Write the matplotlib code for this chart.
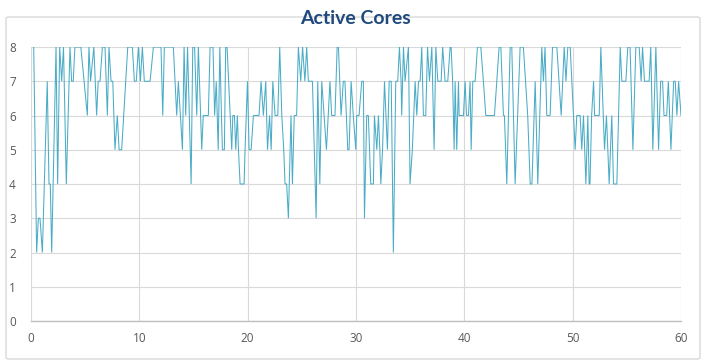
import matplotlib
matplotlib.use("Agg")
import matplotlib.pyplot as plt
from matplotlib.patches import FancyBboxPatch

# Vertices of the series (time in s, active cores)
time_s = [
    0.25, 0.52, 0.68, 0.83, 1.05, 1.5, 1.66, 1.78, 1.91, 2.31, 2.46, 2.65, 2.83, 3.0, 3.26, 3.6,
    3.75, 3.9, 4.05, 4.6, 5.2, 5.35, 5.5, 5.8, 6.06, 6.2, 6.37,
    6.59, 6.83, 7.05, 7.2, 7.39, 7.55, 7.75, 7.97, 8.13, 8.37, 8.93, 9.36, 9.54, 9.72, 9.91, 10.1,
    10.28, 10.46, 10.99, 11.3, 12.0, 12.16, 12.31, 13.14,
    13.45, 13.6, 13.98, 14.13, 14.28, 14.45, 14.78, 14.93, 15.1, 15.3, 15.45, 15.76, 15.9, 16.37,
    16.53, 16.8, 16.95, 17.1, 17.28, 17.43, 17.58, 17.67, 17.85, 17.97, 18.1, 18.38, 18.53, 18.63,
    18.78, 18.9, 19.05, 19.15, 19.3,
    19.67, 19.76, 19.98, 20.13, 20.32, 20.53, 21.05, 21.24, 21.45, 21.67, 21.83, 22.02, 22.17,
    22.32, 22.53, 22.78, 22.96, 23.15, 23.33, 23.45, 23.6, 23.76, 24.0, 24.13, 24.3, 24.52, 24.68,
    24.9, 25.07, 25.28, 25.45, 25.6, 25.98,
    26.32, 26.47, 26.66, 26.84, 27.05, 27.27, 27.6, 27.75, 28.06, 28.26, 28.38, 28.62, 28.83,
    28.98, 29.24, 29.36, 29.55, 29.75, 29.98, 30.07, 30.28, 30.53, 30.68, 30.78, 30.99, 31.14,
    31.36, 31.61, 31.7, 31.92, 32.07, 32.2,
    32.29, 32.45, 32.63, 32.9, 33.06, 33.25, 33.45, 33.67, 33.85, 34.01, 34.16, 34.22, 34.38,
    34.53, 34.84, 34.99, 35.2, 35.46, 35.61, 35.77, 35.92, 36.07, 36.22, 36.44, 36.6, 36.78, 37.0,
    37.21, 37.37, 37.55, 37.86, 38.0, 38.22, 38.47, 38.69,
    38.78, 38.92, 39.06, 39.15, 39.3, 39.46, 39.52, 39.92, 40.07, 40.2, 40.38, 40.53, 40.63,
    40.78, 41.0, 41.21, 41.52, 41.76, 41.98, 42.78, 43.0, 43.21, 43.37, 43.61, 43.7, 43.92, 44.23,
    44.38, 44.69,
    45.15, 45.45, 45.85, 46.08, 46.24, 46.54, 46.78, 47.15, 47.3, 47.45, 47.61, 47.92, 48.14,
    48.54, 48.94, 49.22, 49.38, 49.55, 49.77, 50.08, 50.23, 50.38, 50.69, 50.84, 51.0, 51.22,
    51.4, 51.52,
    51.6, 51.75, 51.93, 52.02, 52.45, 52.6, 52.94, 53.12, 53.37, 53.61, 53.77, 54.08, 54.39,
    54.54, 54.91, 55.09, 55.3, 55.56, 55.83, 56.14, 56.32, 56.45, 56.63, 57.06, 57.21, 57.4,
    57.68, 57.93, 58.12, 58.3, 58.43, 58.68, 58.83, 59.07, 59.32, 59.47, 59.62, 59.78, 60.0,
]
active_cores = [
    8, 2, 3, 3, 2, 7, 4, 4, 2, 8, 4, 8, 7, 8, 4, 8,
    7, 7, 8, 8, 6, 8, 7, 8, 6, 7, 7,
    8, 8, 6, 8, 7, 7, 5, 6, 5, 5, 8, 8, 7, 7, 8, 7,
    8, 7, 7, 8, 8, 6, 8, 8,
    6, 7, 5, 8, 6, 8, 4, 8, 8, 6, 8, 5, 6, 6,
    8, 8, 6, 7, 5, 8, 6, 5, 5, 8, 8, 6, 5, 6,
    6, 5, 6, 5, 4,
    4, 5, 7, 5, 5, 6, 6, 7, 6, 7, 5, 6, 5,
    7, 6, 6, 8, 6, 5, 4, 4, 3, 6, 4, 6, 6, 8,
    7, 8, 7, 8, 7, 7,
    3, 7, 4, 7, 6, 5, 7, 6, 6, 8, 8, 6, 7,
    7, 5, 5, 7, 6, 5, 6, 6, 7, 7, 3, 6, 6,
    4, 4, 6, 5, 6, 5,
    4, 5, 7, 5, 7, 7, 2, 7, 7, 8, 7, 6, 8,
    7, 8, 4, 5, 7, 6, 7, 7, 8, 6, 6, 8, 7, 8,
    5, 8, 7, 7, 8, 7, 7, 8,
    8, 7, 5, 7, 5, 7, 6, 6, 7, 6, 6, 7, 5,
    7, 7, 8, 8, 7, 6, 6, 7, 8, 8, 6, 6, 4, 8,
    8, 4,
    8, 8, 6, 4, 4, 7, 4, 8, 7, 8, 6, 6, 8,
    8, 6, 8, 7, 8, 8, 6, 5, 6, 6, 5, 6, 4,
    6, 4,
    4, 6, 7, 6, 6, 8, 5, 6, 4, 6, 4, 4, 8,
    7, 7, 8, 8, 5, 8, 8, 7, 8, 7, 7, 8, 5,
    8, 5, 7, 7, 6, 6, 7, 5, 7, 7, 6, 7, 6,
]

x_ticks = [0, 10, 20, 30, 40, 50, 60]
y_ticks = [0, 1, 2, 3, 4, 5, 6, 7, 8]
title = "Active Cores"

fig = plt.figure(figsize=(7.10, 3.63), dpi=100)
fig.patch.set_facecolor("white")

# chart frame
frame = FancyBboxPatch((6 / 710, 4 / 363), 694 / 710, 342 / 363,
                       boxstyle="round,pad=0,rounding_size=0.004",
                       transform=fig.transFigure, fill=False,
                       edgecolor="#d9d9d9", linewidth=1.0)
fig.patches.append(frame)

ax = fig.add_axes([31 / 710, 1 - 321 / 363, 650 / 710, 274 / 363])
ax.plot(time_s, active_cores, color="#4BACC6", linewidth=0.75, solid_joinstyle="miter")
ax.set_xlim(0, 60)
ax.set_ylim(0, 8)
ax.set_xticks(x_ticks)
ax.set_yticks(y_ticks)
ax.grid(True, color="#d9d9d9", linewidth=0.8)
ax.set_axisbelow(True)
for side in ["top", "right", "left"]:
    ax.spines[side].set_visible(False)
ax.spines["bottom"].set_color("#bfbfbf")
ax.spines["bottom"].set_linewidth(1.0)
ax.tick_params(length=0, labelsize=8.5, colors="#595959", pad=8)
ax.tick_params(axis="y", pad=11)
for lab in ax.get_xticklabels() + ax.get_yticklabels():
    lab.set_family(["Open Sans", "DejaVu Sans"])

fig.text(0.5, 1 - 19 / 363, title, ha="center", va="center", fontsize=14,
         fontweight="bold", color="#1F497D", family=["Lato", "DejaVu Sans"])

fig.savefig("out.png", dpi=100, facecolor="white")
